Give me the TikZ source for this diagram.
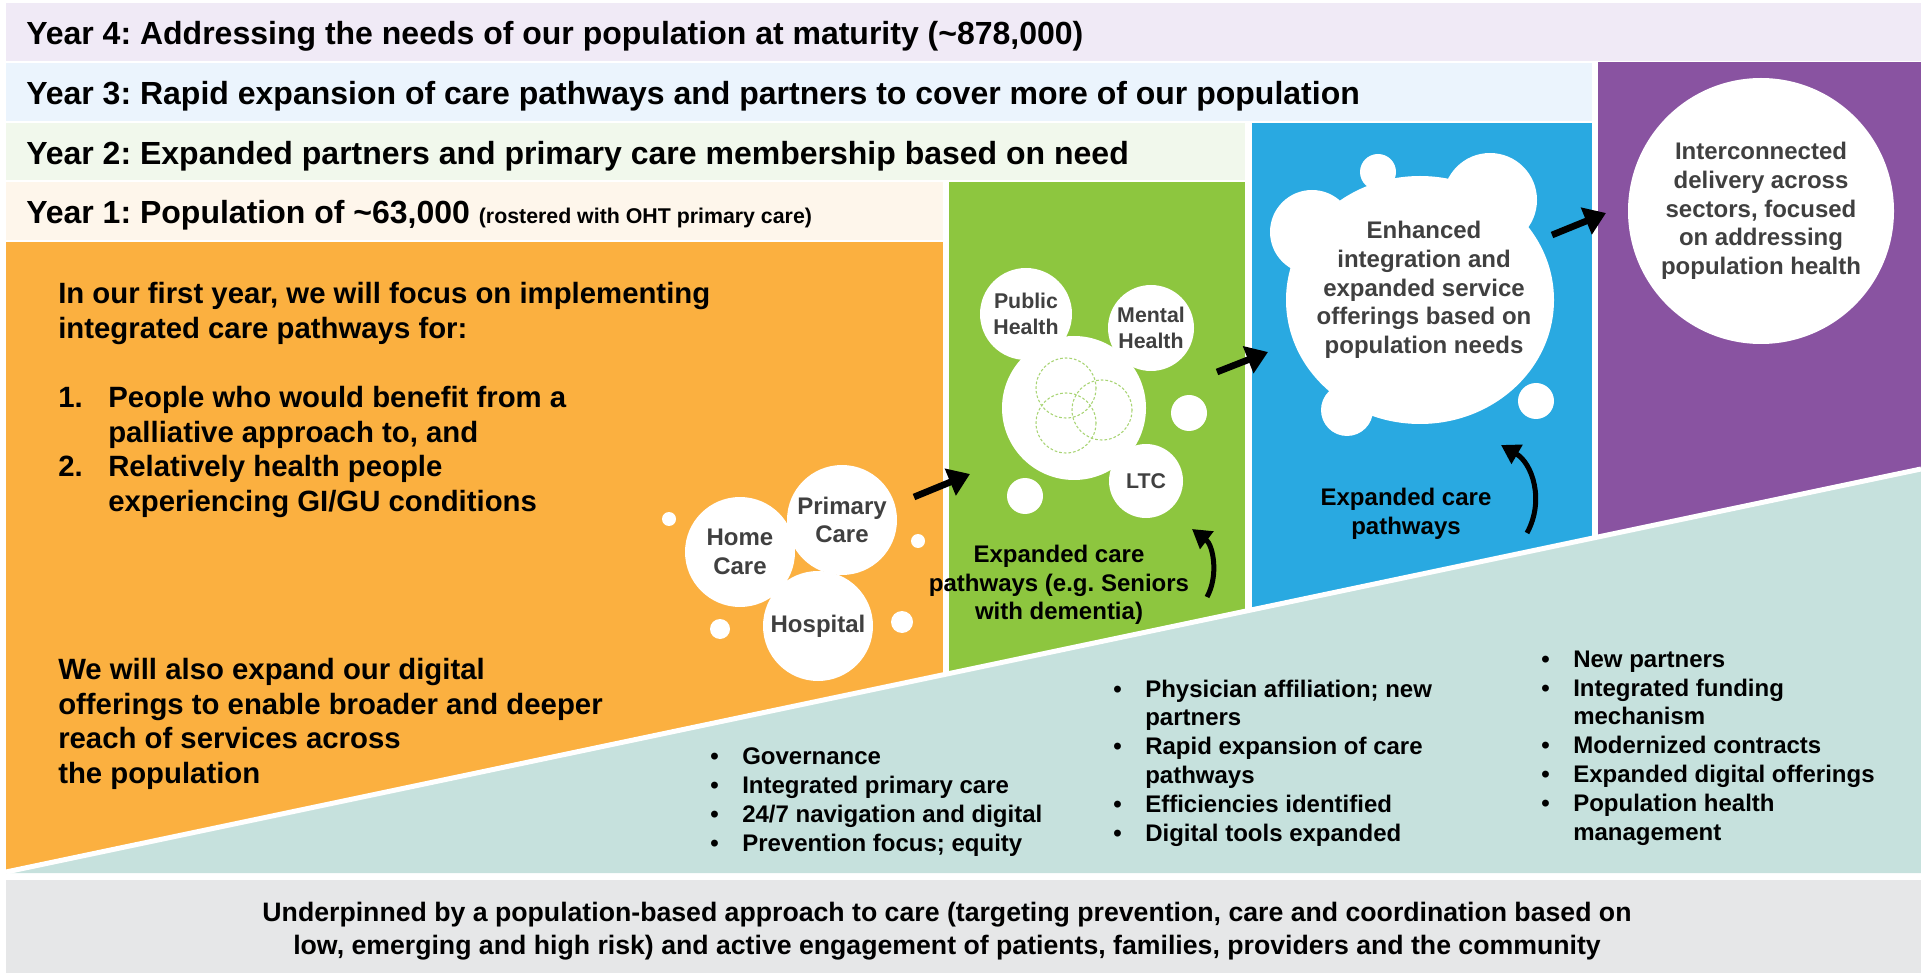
\documentclass[tikz,border=0pt]{standalone}
\usepackage{fontspec}
\setmainfont{Liberation Sans}
\usetikzlibrary{arrows.meta,positioning,calc}
\frenchspacing

\definecolor{bandfour}{HTML}{F0EAF6}
\definecolor{bandthree}{HTML}{EBF4FD}
\definecolor{bandtwo}{HTML}{F1F8EC}
\definecolor{bandone}{HTML}{FEF6EB}
\definecolor{yrorange}{HTML}{FBB040}
\definecolor{yrgreen}{HTML}{8DC63F}
\definecolor{yrblue}{HTML}{29A9E1}
\definecolor{yrpurple}{HTML}{8953A1}
\definecolor{baseteal}{HTML}{C6E1DD}
\definecolor{footgrey}{HTML}{E6E7E8}
\definecolor{txtgrey}{HTML}{404040}
\definecolor{venngreen}{HTML}{A8D473}

\newcommand{\bul}{\makebox[24pt][l]{\textbullet}}
\newcommand{\cont}{\hspace*{24pt}}
\newcommand{\numitem}[1]{\makebox[37.5pt][l]{#1}}

\begin{document}
\begin{tikzpicture}[x=0.75pt, y=-0.75pt,
    every node/.style={inner sep=0pt, font=\bfseries},
    yeartitle/.style={anchor=west, font=\bfseries\fontsize{24}{28}\selectfont},
    bodytext/.style={anchor=west, align=left, font=\bfseries\fontsize{22}{26}\selectfont},
    bubble/.style={circle, fill=white, text=txtgrey, align=center, font=\bfseries\fontsize{18}{21.5}\selectfont},
    smallbubble/.style={bubble, font=\bfseries\fontsize{16}{19}\selectfont},
    greytext/.style={text=txtgrey, align=center, font=\bfseries\fontsize{18}{21.5}\selectfont},
    blacktext/.style={align=center, font=\bfseries\fontsize{18}{21.5}\selectfont},
    bullets/.style={anchor=west, align=left, font=\bfseries\fontsize{18}{21.6}\selectfont},
    fatarrow/.style={line width=5pt, -{Triangle[length=16pt,width=21pt]}},
    bentarrow/.style={line width=3.75pt, -{Triangle[length=14pt,width=16pt]}}]
    \useasboundingbox (0,0) rectangle (1921,973);

    % year bands
    \fill[bandfour] (6,3) rectangle (1921,61);
    \fill[bandthree] (6,63) rectangle (1592,121);
    \fill[bandtwo] (6,123) rectangle (1245,180);
    \fill[bandone] (6,182) rectangle (943,240);
    \node[yeartitle] (y4) at (26,36) {Year 4: Addressing the needs of our population at maturity (\textasciitilde878,000)};
    \node[yeartitle] (y3) at (26,96) {Year 3: Rapid expansion of care pathways and partners to cover more of our population};
    \node[yeartitle] (y2) at (26,156) {Year 2: Expanded partners and primary care membership based on need};
    \node[yeartitle] (y1) at (26,215) {Year 1: Population of \textasciitilde63,000 {\fontsize{16}{19}\selectfont (rostered with OHT primary care)}};

    % columns
    \fill[yrorange] (6,242) rectangle (943,873);
    \fill[yrgreen] (949,182) rectangle (1245,873);
    \fill[yrblue] (1252,123) rectangle (1592,873);
    \fill[yrpurple] (1598,62) rectangle (1921,873);

    % base wedge and footer
    \fill[baseteal] (6,873) -- (1921,469) -- (1921,873) -- cycle;
    \draw[white, line width=3.75pt] (6,872) -- (1921,469);
    \fill[footgrey] (6,880) rectangle (1921,973);

    % year 1 text
    \node[bodytext] (focus) at (58,400) {In our first year, we will focus on implementing\\
        integrated care pathways for:\\[26pt]
        \numitem{1.}People who would benefit from a\\
        \numitem{}palliative approach to, and\\
        \numitem{2.}Relatively health people\\
        \numitem{}experiencing GI/GU conditions};
    \node[bodytext] (digital) at (58,724) {We will also expand our digital\\
        offerings to enable broader and deeper\\
        reach of services across\\
        the population};

    % year 1 bubbles
    \fill[white] (669,519) circle (7);
    \fill[white] (918,541) circle (7);
    \fill[white] (720,629) circle (10);
    \fill[white] (902,622) circle (11);
    \node[bubble, minimum size=82.5pt] (home) at (740,552) {Home\\Care};
    \node[bubble, minimum size=82.5pt] (primary) at (842,520) {Primary\\Care};
    \node[bubble, minimum size=82.5pt] (hospital) at (818,626) {Hospital};

    % year 2 bubbles
    \fill[white] (1189,413) circle (18);
    \fill[white] (1025,496) circle (18);
    \node[circle, fill=white, minimum size=108pt] (hub) at (1074,408) {};
    \draw[venngreen, line width=0.8pt, dash pattern=on 2pt off 1.5pt] (1066,388) circle (30);
    \draw[venngreen, line width=0.8pt, dash pattern=on 2pt off 1.5pt] (1102,410) circle (30);
    \draw[venngreen, line width=0.8pt, dash pattern=on 2pt off 1.5pt] (1066,423) circle (30);
    \node[smallbubble, minimum size=69pt] (public) at (1026,314) {Public\\Health};
    \node[smallbubble, minimum size=64.5pt] (mental) at (1151,328) {Mental\\Health};
    \node[smallbubble, minimum size=55.5pt] (ltc) at (1146,481) {LTC};
    \node[blacktext] (seniors) at (1059,585) {Expanded care\\pathways (e.g. Seniors\\with dementia)};

    % year 3 cloud
    \fill[white] (1420,300) ellipse [x radius=134, y radius=124];
    \fill[white] (1312,232) circle (42);
    \fill[white] (1378,172) circle (18);
    \fill[white] (1490,200) circle (47);
    \fill[white] (1347,410) circle (26);
    \fill[white] (1536,401) circle (18);
    \node[greytext] (enhanced) at (1424,290) {Enhanced\\integration and\\expanded service\\offerings based on\\population needs};
    \node[blacktext] (pathways) at (1406,514) {Expanded care\\pathways};

    % year 4 circle
    \node[bubble, minimum size=199.5pt] (inter) at (1761,211) {Interconnected\\delivery across\\sectors, focused\\on addressing\\population health};

    % arrows
    \coordinate (oa1) at (914,497);
    \coordinate (oa2) at (970,474);
    \coordinate (ga1) at (1217,372);
    \coordinate (ga2) at (1268,352);
    \coordinate (ba1) at (1552,235);
    \coordinate (ba2) at (1606,213);
    \coordinate (gc1) at (1207,597);
    \coordinate (gc2) at (1192,529);
    \coordinate (bc1) at (1527,533);
    \coordinate (bc2) at (1501,445);
    \draw[fatarrow] (oa1) -- (oa2);
    \draw[fatarrow] (ga1) -- (ga2);
    \draw[fatarrow] (ba1) -- (ba2);
    \draw[bentarrow] (gc1) .. controls (1219,575) and (1213,545) .. (gc2);
    \draw[bentarrow] (bc1) .. controls (1545,500) and (1532,463) .. (bc2);

    % base lists
    \node[bullets] (list1) at (710,802) {\bul Governance\\
        \bul Integrated primary care\\
        \bul 24/7 navigation and digital\\
        \bul Prevention focus; equity};
    \node[bullets] (list2) at (1113,763) {\bul Physician affiliation; new\\
        \cont partners\\
        \bul Rapid expansion of care\\
        \cont pathways\\
        \bul Efficiencies identified\\
        \bul Digital tools expanded};
    \node[bullets] (list3) at (1541,748) {\bul New partners\\
        \bul Integrated funding\\
        \cont mechanism\\
        \bul Modernized contracts\\
        \bul Expanded digital offerings\\
        \bul Population health\\
        \cont management};

    % footer
    \node[blacktext, font=\bfseries\fontsize{20}{24.75}\selectfont] (footer) at (947,931) {Underpinned by a population-based approach to care (targeting prevention, care and coordination based on\\
        low, emerging and high risk) and active engagement of patients, families, providers and the community};
\end{tikzpicture}
\end{document}
